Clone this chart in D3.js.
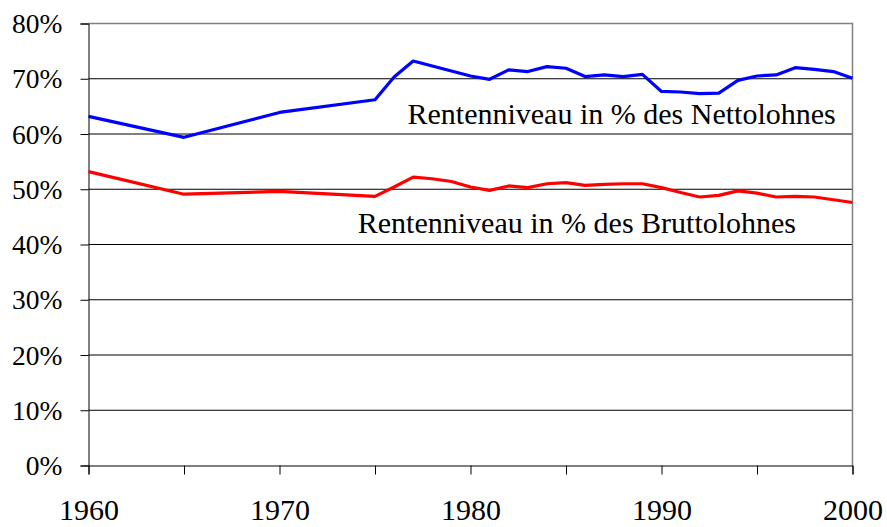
<!DOCTYPE html>
<html>
<head>
<meta charset="utf-8">
<script src="https://cdn.jsdelivr.net/npm/d3@7"></script>
<style>
  html, body { margin: 0; padding: 0; background: #fff; }
  svg { display: block; }
  text { font-family: "Liberation Serif", "Times New Roman", serif; fill: #000; }
</style>
</head>
<body>
<svg id="chart" width="887" height="527"></svg>
<script>
// ── Data ──────────────────────────────────────────────────────────────────────
const years = [1960, 1965, 1970, 1975, 1976, 1977, 1978, 1979, 1980, 1981, 1982,
  1983, 1984, 1985, 1986, 1987, 1988, 1989, 1990, 1991, 1992, 1993, 1994, 1995,
  1996, 1997, 1998, 1999, 2000];

// Rentenniveau in % des Nettolohnes
const netto = [63.2, 59.4, 63.9, 66.2, 70.3, 73.2, 72.3, 71.4, 70.5, 69.9, 71.6,
  71.3, 72.2, 71.9, 70.4, 70.7, 70.4, 70.8, 67.7, 67.6, 67.3, 67.4, 69.7, 70.5,
  70.7, 72.0, 71.7, 71.3, 70.1];

// Rentenniveau in % des Bruttolohnes
const brutto = [53.2, 49.1, 49.6, 48.7, 50.4, 52.2, 51.9, 51.4, 50.4, 49.8, 50.6,
  50.3, 51.0, 51.2, 50.7, 50.9, 51.0, 51.0, 50.3, 49.4, 48.6, 48.9, 49.7, 49.3,
  48.6, 48.7, 48.6, 48.1, 47.6];

const yTicks = [0, 10, 20, 30, 40, 50, 60, 70, 80];
const xTicks = [1960, 1965, 1970, 1975, 1980, 1985, 1990, 1995, 2000];
const xLabels = [1960, 1970, 1980, 1990, 2000];

const labels = [
  { text: 'Rentenniveau in % des Nettolohnes', x: 1976.7, y: 61.8 },
  { text: 'Rentenniveau in % des Bruttolohnes', x: 1974.1, y: 42.1 }
];

// ── Layout ────────────────────────────────────────────────────────────────────
const svg = d3.select('#chart');
const L = 88.5, R = 852.5, T = 23.5, B = 465.5;

const x = d3.scaleLinear().domain([1960, 2000]).range([L, R]);
const y = d3.scaleLinear().domain([0, 80]).range([B, T]);

// gridlines
svg.append('g')
  .selectAll('line')
  .data(yTicks.filter(v => v > 0 && v < 80))
  .enter().append('line')
    .attr('x1', L).attr('x2', R)
    .attr('y1', d => y(d)).attr('y2', d => y(d))
    .attr('stroke', '#000').attr('stroke-width', 1);

// grey frame: top and right
svg.append('path')
  .attr('d', `M${L},${T}H${R}V${B}`)
  .attr('fill', 'none').attr('stroke', '#808080').attr('stroke-width', 1.5);

// y axis
const yAxis = svg.append('g')
  .attr('transform', `translate(${L},0)`)
  .call(d3.axisLeft(y).tickValues(yTicks).tickSize(8).tickPadding(18)
    .tickFormat(d => d + '%'));
yAxis.select('.domain').attr('stroke', '#000');
yAxis.selectAll('.tick line').attr('stroke', '#000');
yAxis.selectAll('text')
  .style('font-family', '"Liberation Serif", serif')
  .attr('font-size', 27.5).attr('fill', '#000').attr('dy', '0.33em');

// x axis
const xAxis = svg.append('g')
  .attr('transform', `translate(0,${B})`)
  .call(d3.axisBottom(x).tickValues(xTicks).tickSize(9).tickPadding(0)
    .tickFormat(d => xLabels.includes(d) ? d : ''));
xAxis.select('.domain').attr('stroke', '#000');
xAxis.selectAll('.tick line').attr('stroke', '#000');
xAxis.selectAll('text')
  .style('font-family', '"Liberation Serif", serif')
  .attr('font-size', 30).attr('fill', '#000').attr('y', 54).attr('dy', 0);

// ── Lines ─────────────────────────────────────────────────────────────────────
const line = d3.line().x((d, i) => x(years[i])).y(d => y(d));

svg.append('path').datum(brutto)
  .attr('d', line).attr('fill', 'none')
  .attr('stroke', '#ff0000').attr('stroke-width', 3.2)
  .attr('stroke-linejoin', 'round');

svg.append('path').datum(netto)
  .attr('d', line).attr('fill', 'none')
  .attr('stroke', '#0000ff').attr('stroke-width', 3.2)
  .attr('stroke-linejoin', 'round');

// ── Annotations ───────────────────────────────────────────────────────────────
svg.append('g').selectAll('text')
  .data(labels)
  .enter().append('text')
    .attr('x', d => x(d.x)).attr('y', d => y(d.y))
    .attr('font-size', 30)
    .text(d => d.text);
</script>
</body>
</html>
